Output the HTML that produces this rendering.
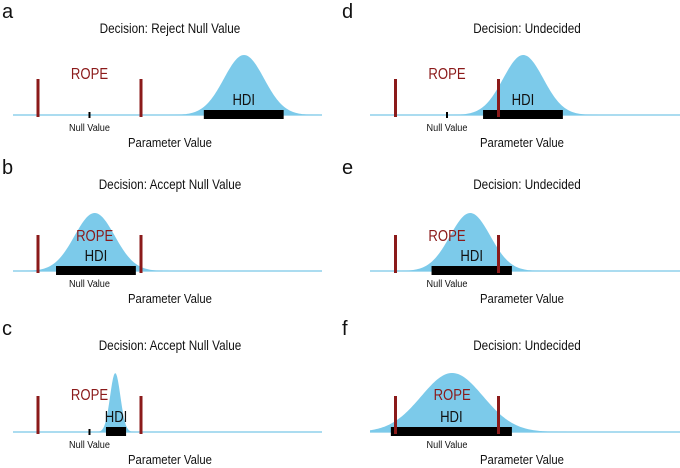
<!DOCTYPE html>
<html><head><meta charset="utf-8"><style>
html,body{margin:0;padding:0;background:#fff}
svg{display:block;font-family:"Liberation Sans",sans-serif}
</style></head><body>
<svg id="chart" width="680" height="468" viewBox="0 0 680 468"></svg>
<script>
const panelLetters = ["a","b","c","d","e","f"];
const titles = ["Decision: Reject Null Value","Decision: Accept Null Value","Decision: Accept Null Value","Decision: Undecided","Decision: Undecided","Decision: Undecided"];
const means = [3.0, 0.1, 0.5, 1.48, 0.45, 0.1];
const sds = [0.39, 0.39, 0.1, 0.39, 0.39, 0.6];
const heights = [60, 58, 59, 60, 58, 59];
const hdiLow = [2.22, -0.65, 0.32, 0.7, -0.3, -1.09];
const hdiHigh = [3.77, 0.9, 0.71, 2.25, 1.26, 1.26];
const ropeLow = -1, ropeHigh = 1, nullValue = 0;

const NS = "http://www.w3.org/2000/svg";
const svg = document.getElementById("chart");
const colX = [89.5, 447];
const rowBase = [115, 271, 432];
const unit = 51.5;
function mk(tag, attrs, parent){const e=document.createElementNS(NS,tag);for(const k in attrs)e.setAttribute(k,attrs[k]);(parent||svg).appendChild(e);return e;}
function txt(s, attrs, parent, sx){
  const x=attrs.x, y=attrs.y; delete attrs.x; delete attrs.y;
  attrs.transform="translate("+x+","+y+") scale("+(sx||1)+",1)";
  const e=mk("text",attrs,parent);e.textContent=s;return e;}

for(let i=0;i<6;i++){
  const col = i<3?0:1, row=i%3;
  const base = rowBase[row];
  const xs = v => colX[col] + v*unit;
  const left = col===0?13:370, right = col===0?322:680;
  const g = mk("g",{});
  
  
  const L = txt(panelLetters[i],{x:col===0?2:342,y:base-97,"font-size":20,fill:"#111"},g,1);
  
  
  const T = txt(titles[i],{x:col===0?170:527,y:base-82,"font-size":13.5,"text-anchor":"middle",fill:"#111"},g,0.87);
  
  
  const ax = mk("line",{x1:left,x2:right,y1:base,y2:base,stroke:"#8fd0ec","stroke-width":1.5},g);
  
  
  let d = "M"+left+","+base;
  for(let px=left;px<=right;px+=1){
    const v=(px-colX[col])/unit;
    const y=base-heights[i]*Math.exp(-0.5*Math.pow((v-means[i])/sds[i],2));
    d+=" L"+px+","+y.toFixed(2);
  }
  d+=" L"+right+","+base+" Z";
  const c = mk("path",{d:d,fill:"#7ccaea"},g);
  
  
  const hb = mk("rect",{x:xs(hdiLow[i]),y:base-5,width:xs(hdiHigh[i])-xs(hdiLow[i]),height:9,fill:"#000"},g);
  
  
  [ropeLow, ropeHigh].forEach(r=>{
    const rl = mk("line",{x1:xs(r),x2:xs(r),y1:base-36,y2:base+2,stroke:"#8b1a1a","stroke-width":3},g);
    
    
  });
  const nt = mk("line",{x1:xs(nullValue),x2:xs(nullValue),y1:base-3,y2:base+3,stroke:"#000","stroke-width":2},g);
  
  
  const nv = txt("Null Value",{x:xs(nullValue),y:base+16,"font-size":10.5,"text-anchor":"middle",fill:"#111"},g,0.87);
  
  
  const pv = txt("Parameter Value",{x:col===0?170:522,y:base+32,"font-size":13,"text-anchor":"middle",fill:"#111"},g,0.87);
  
  
  const ropeX = (i===1||i===5)? xs(means[i]) : xs(nullValue);
  const rt = txt("ROPE",{x:ropeX,y:base-(i===0||i===3?36:i===1||i===4?30:32),"font-size":16,"text-anchor":"middle",fill:"#8b1a1a"},g,0.82);
  
  
  const ht = txt("HDI",{x:xs((hdiLow[i]+hdiHigh[i])/2),y:base-10,"font-size":16,"text-anchor":"middle",fill:"#111"},g,0.82);
  
  
}
</script>
</body></html>
